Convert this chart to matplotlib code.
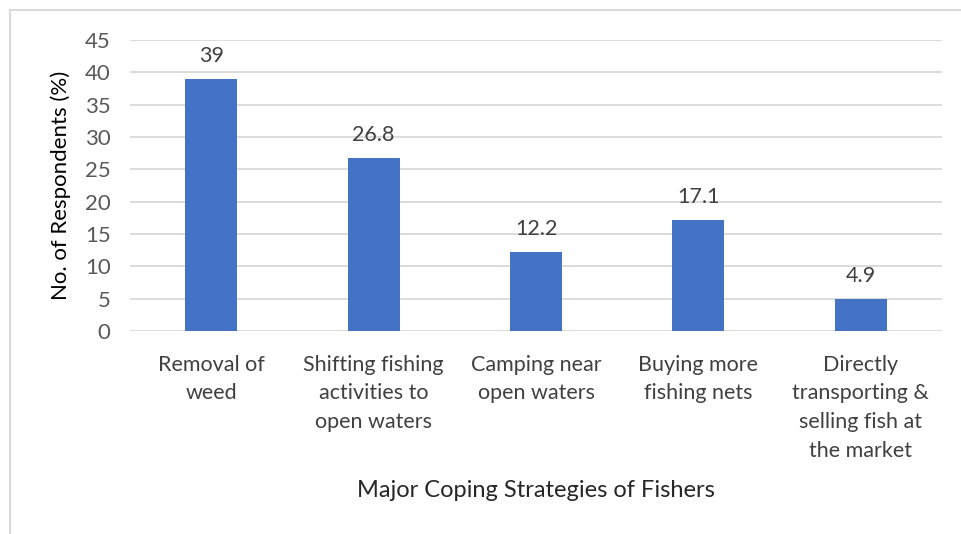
import matplotlib.pyplot as plt
from matplotlib.lines import Line2D

categories = [
    "Removal of\nweed",
    "Shifting fishing\nactivities to\nopen waters",
    "Camping near\nopen waters",
    "Buying more\nfishing nets",
    "Directly\ntransporting &\nselling fish at\nthe market",
]
respondents = [39, 26.8, 12.2, 17.1, 4.9]
value_labels = ["39", "26.8", "12.2", "17.1", "4.9"]
yticks = list(range(0, 50, 5))

plt.rcParams["font.family"] = ["Lato", "DejaVu Sans"]

fig = plt.figure(figsize=(9.61, 5.34), dpi=100)
ax = fig.add_axes([130 / 961, 1 - 331 / 534, 812 / 961, 291 / 534])

x = range(len(categories))
bars = ax.bar(x, respondents, width=0.32, color="#4472C4", zorder=3)
for b, lab in zip(bars, value_labels):
    ax.text(b.get_x() + b.get_width() / 2, b.get_height() + 2.0, lab,
            ha="center", va="bottom", fontsize=15.5, color="#404040")

ax.set_xlim(-0.5, len(categories) - 0.5)
ax.set_ylim(0, 45)
ax.set_yticks(yticks)
ax.grid(axis="y", color="#D9D9D9", lw=1.3, zorder=0)
for s in ax.spines.values():
    s.set_visible(False)
ax.tick_params(axis="y", length=0, pad=14, labelsize=16, labelcolor="#595959")
ax.tick_params(axis="x", length=0, pad=17, labelsize=15.5, labelcolor="#404040")
ax.set_xticks(list(x))
ax.set_xticklabels(categories, linespacing=1.55)
ax.set_ylabel("No. of Respondents (%)", fontsize=16, color="black", labelpad=10)
ax.set_xlabel("Major Coping Strategies of Fishers", fontsize=17, color="#262626", labelpad=14)

# chart border (left + top visible in the reference)
fig.add_artist(Line2D([10 / 961, 10 / 961], [0, 1 - 10 / 534], color="#D9D9D9", lw=1.5))
fig.add_artist(Line2D([10 / 961, 1], [1 - 10 / 534, 1 - 10 / 534], color="#D9D9D9", lw=1.5))

fig.savefig("out.png", dpi=100)
